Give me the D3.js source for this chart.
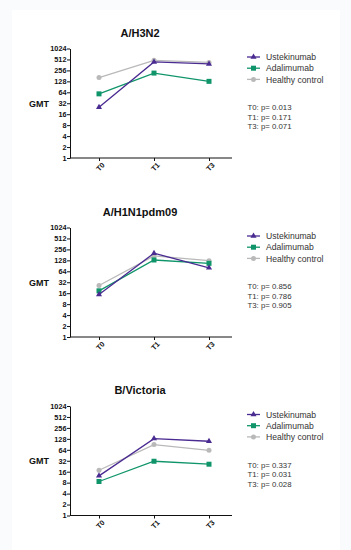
<!DOCTYPE html>
<html><head><meta charset="utf-8">
<script src="https://cdn.jsdelivr.net/npm/d3@7"></script>
<style>body{margin:0;background:#fafbfd}svg{display:block}</style>
</head><body><svg id="c" width="351" height="550"></svg>
<script>
const timepoints = ["T0", "T1", "T3"];
const yTicks = [1, 2, 4, 8, 16, 32, 64, 128, 256, 512, 1024];
const seriesNames = ["Ustekinumab", "Adalimumab", "Healthy control"];
const seriesColors = ["#4a2b91", "#10956a", "#b9b9b9"];
const panelTitles = ["A/H3N2", "A/H1N1pdm09", "B/Victoria"];
// GMT values per panel: [Ustekinumab, Adalimumab, Healthy control]
const h3n2 = [[25, 437, 385], [58, 216, 128], [163, 485, 425]];
const h1n1 = [[14.8, 201, 80], [18.6, 131, 106], [26, 169, 125]];
const bvic = [[12.3, 130, 110], [8.6, 31, 25.7], [17.5, 89, 62]];
const pValues = [
  ["T0: p= 0.013", "T1: p= 0.171", "T3: p= 0.071"],
  ["T0: p= 0.856", "T1: p= 0.786", "T3: p= 0.905"],
  ["T0: p= 0.337", "T1: p= 0.031", "T3: p= 0.028"]
];
const panelData = [h3n2, h1n1, bvic];

const svg = d3.select("#c");
svg.append("rect").attr("x", 12).attr("y", 10).attr("width", 328).attr("height", 540).attr("fill", "#fff");

const panelTops = [48.5, 227.5, 406];
const axisH = 109.5;
const font = "Liberation Sans, Arial, sans-serif";

function marker(g, i, x, y, color) {
  if (i === 0) {
    g.append("path").attr("d", d3.symbol(d3.symbolTriangle, 16)()).attr("transform", `translate(${x},${y})`).attr("fill", color);
  } else if (i === 1) {
    g.append("rect").attr("x", x - 2.5).attr("y", y - 2.5).attr("width", 5).attr("height", 5).attr("fill", color);
  } else {
    g.append("circle").attr("cx", x).attr("cy", y).attr("r", 2.5).attr("fill", color);
  }
}

panelData.forEach((data, p) => {
  const top = panelTops[p];
  const g = svg.append("g");
  const y = d3.scaleLog().base(2).domain([1, 1024]).range([top + axisH, top]);
  const x = d3.scalePoint().domain(timepoints).range([99, 209]);

  // title
  g.append("text").attr("x", 140).attr("y", top - 12).attr("text-anchor", "middle")
    .attr("font-family", font).attr("font-weight", "bold").attr("font-size", 11).attr("fill", "#111").text(panelTitles[p]);

  // y axis
  const ya = g.append("g").attr("transform", "translate(70,0)")
    .call(d3.axisLeft(y).tickValues(yTicks).tickFormat(d3.format("d")).tickSize(3).tickSizeOuter(0));
  ya.select(".domain").attr("stroke", "#111").attr("stroke-width", 1);
  ya.selectAll(".tick line").attr("stroke", "#111");
  ya.selectAll("text").attr("font-family", font).attr("font-weight", "bold").attr("font-size", 7.3).attr("fill", "#111").attr("x", -3.5);

  // x axis
  const xa = g.append("g").attr("transform", `translate(0,${top + axisH})`)
    .call(d3.axisBottom(x).tickSize(3).tickSizeOuter(0));
  xa.select(".domain").attr("d", `M70,0H232`).attr("stroke", "#111");
  xa.selectAll(".tick line").attr("stroke", "#111");
  xa.selectAll("text").attr("font-family", font).attr("font-weight", "bold").attr("font-size", 7.3).attr("fill", "#111")
    .attr("text-anchor", "end").attr("transform", "translate(4,6) rotate(-45)").attr("dy", "0.32em").attr("y", 0).attr("x", 0);

  // GMT label
  g.append("text").attr("x", 29).attr("y", top + 58).attr("font-family", font).attr("font-weight", "bold")
    .attr("font-size", 9).attr("fill", "#111").text("GMT");

  // lines (gray first, then green, then purple)
  [2, 1, 0].forEach(i => {
    const vals = data[i];
    const line = d3.line().x((d, k) => x(timepoints[k])).y(d => y(d));
    g.append("path").attr("d", line(vals)).attr("fill", "none").attr("stroke", seriesColors[i]).attr("stroke-width", 1.3);
    vals.forEach((v, k) => marker(g, i, x(timepoints[k]), y(v), seriesColors[i]));
  });

  // legend
  seriesNames.forEach((name, i) => {
    const ly = top + 8.5 + i * 11.2;
    g.append("line").attr("x1", 247).attr("x2", 260).attr("y1", ly).attr("y2", ly).attr("stroke", seriesColors[i]).attr("stroke-width", 1.3);
    marker(g, i, 253.5, ly, seriesColors[i]);
    g.append("text").attr("x", 266).attr("y", ly + 3.2).attr("font-family", font).attr("font-size", 8.6).attr("fill", "#333").text(name);
  });

  // p values
  pValues[p].forEach((t, i) => {
    g.append("text").attr("x", 247.5).attr("y", top + 61.5 + i * 9.5).attr("font-family", font).attr("font-size", 7.8).attr("fill", "#333").text(t);
  });
});
</script></body></html>
